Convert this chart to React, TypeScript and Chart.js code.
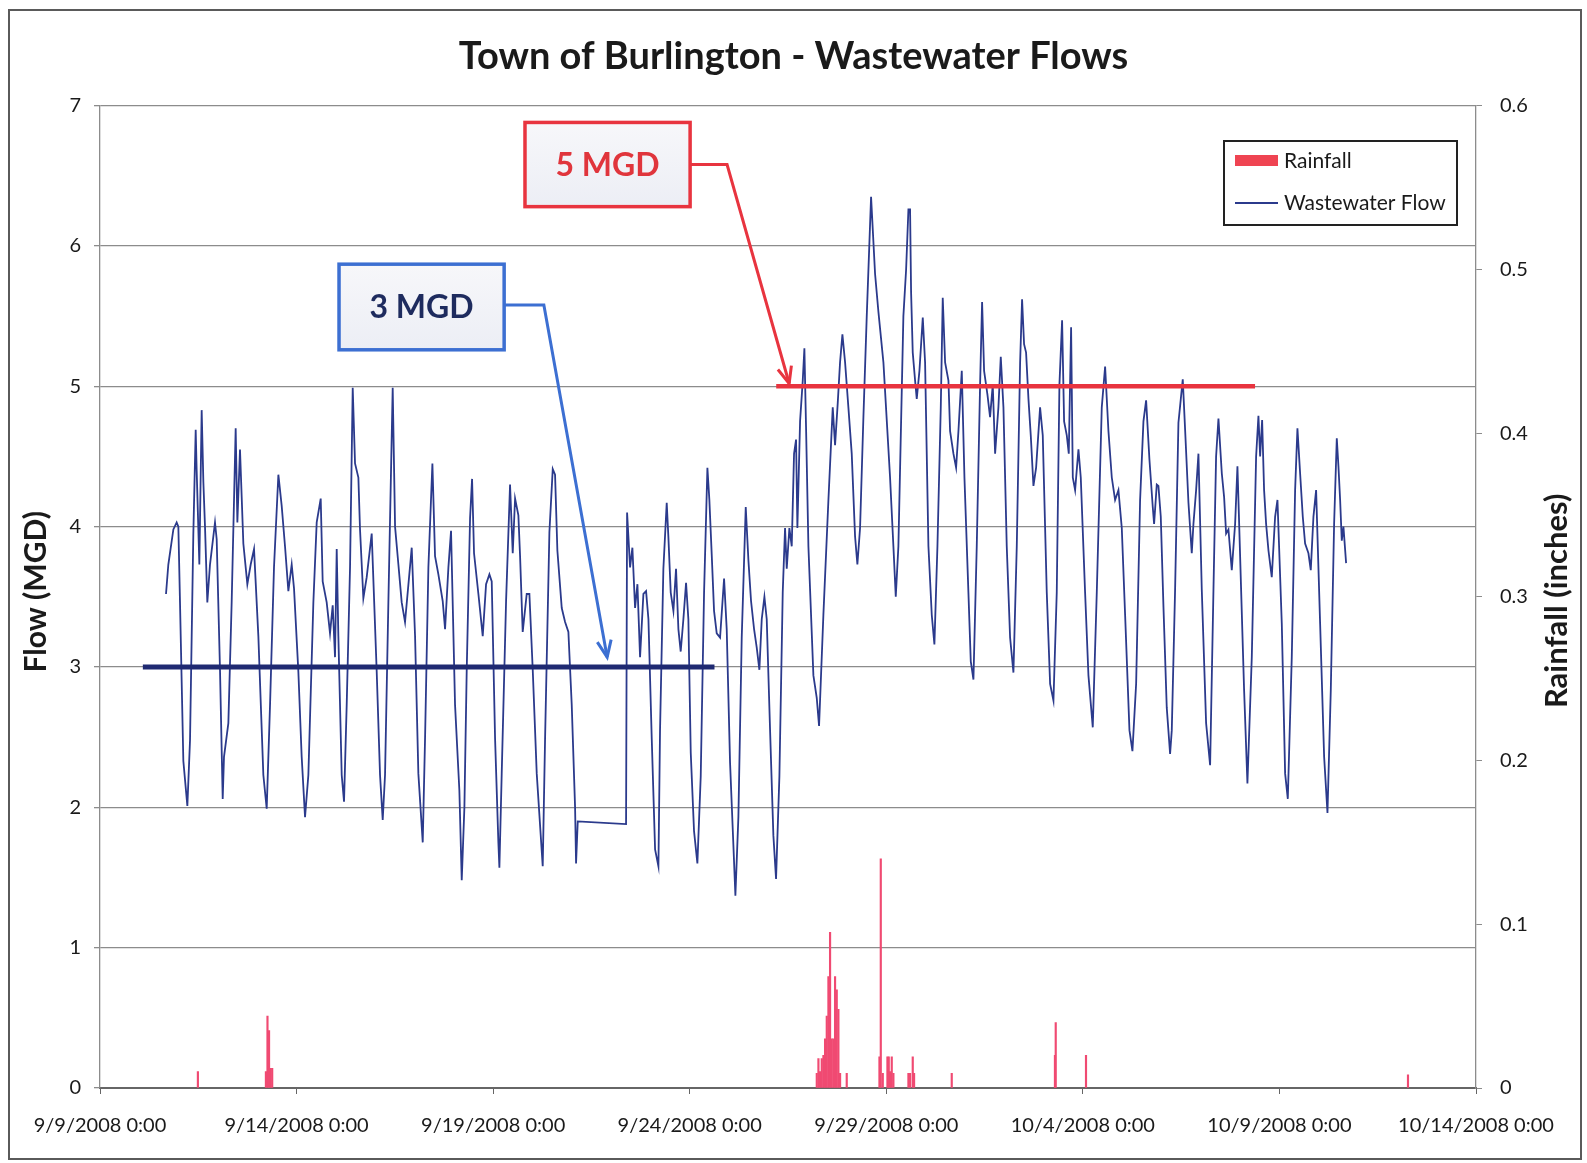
import React, { useEffect, useRef } from "react";
import { Chart, registerables } from "chart.js";

Chart.register(...registerables);

// ---------- DATA ----------
const xTickLabels = [
  "9/9/2008 0:00",
  "9/14/2008 0:00",
  "9/19/2008 0:00",
  "9/24/2008 0:00",
  "9/29/2008 0:00",
  "10/4/2008 0:00",
  "10/9/2008 0:00",
  "10/14/2008 0:00",
];

// days since 9/9/2008 0:00
const flowDays = [
  1.679, 1.738, 1.866, 1.95, 1.993, 2.035, 2.12, 2.222, 2.29, 2.374, 2.434, 2.459, 2.527, 2.586, 2.629, 2.671,
  2.73, 2.798, 2.925, 2.968, 3.053, 3.121, 3.154, 3.265, 3.349, 3.451, 3.494, 3.561, 3.646, 3.748, 3.833, 3.918,
  4.028, 4.155, 4.24, 4.325, 4.426, 4.537, 4.621, 4.706, 4.791, 4.876, 4.935, 5.045, 5.13, 5.215, 5.3, 5.427,
  5.512, 5.614, 5.664, 5.766, 5.851, 5.919, 5.978, 6.021, 6.063, 6.148, 6.207, 6.275, 6.36, 6.428, 6.487, 6.572,
  6.614, 6.699, 6.784, 6.911, 7.038, 7.123, 7.191, 7.25, 7.335, 7.445, 7.505, 7.59, 7.674, 7.759,
  7.929, 8.014, 8.098, 8.209, 8.268, 8.353, 8.455, 8.522, 8.607, 8.717, 8.777, 8.862, 8.929, 9.031, 9.141, 9.201,
  9.269, 9.328, 9.413, 9.464, 9.514, 9.625, 9.735, 9.82, 9.905, 9.964, 10.049, 10.133, 10.159, 10.218, 10.329,
  10.43, 10.498, 10.558, 10.642, 10.685, 10.752, 10.854, 10.922, 11.007, 11.109, 11.261, 11.321, 11.431, 11.516,
  11.575, 11.634, 11.745, 11.83, 11.914, 11.999, 12.084, 12.109, 12.152, 13.381, 13.407, 13.483, 13.542, 13.61,
  13.67, 13.737, 13.822, 13.89, 13.95, 14.034, 14.119, 14.204,
  14.245, 14.33, 14.415, 14.457, 14.517, 14.585, 14.652, 14.712, 14.771, 14.839, 14.907, 14.966, 15.026, 15.11,
  15.195, 15.28, 15.365, 15.45, 15.5, 15.56, 15.619, 15.687, 15.772, 15.874, 15.941, 16.026, 16.111, 16.162,
  16.238, 16.323, 16.425, 16.493, 16.56, 16.637, 16.704, 16.772, 16.832, 16.9, 16.959, 17.044, 17.128, 17.196,
  17.281, 17.366, 17.425, 17.468, 17.535, 17.595, 17.654, 17.705, 17.739, 17.807, 17.875, 17.917, 17.959, 18.019,
  18.146, 18.231, 18.29, 18.4, 18.528, 18.638, 18.697, 18.765, 18.824, 18.884, 18.952, 19.036, 19.121, 19.206,
  19.265, 19.333, 19.418, 19.503, 19.613, 19.715, 19.8, 19.927, 20.096, 20.181, 20.241, 20.308, 20.435,
  20.504, 20.563, 20.605, 20.631, 20.673, 20.733, 20.775, 20.843, 20.928, 20.987, 21.072, 21.157, 21.224, 21.301,
  21.386, 21.436, 21.496, 21.581, 21.623, 21.708, 21.776, 21.835, 21.92, 21.988, 22.089, 22.149, 22.217, 22.301,
  22.386, 22.437, 22.488, 22.573, 22.64, 22.708, 22.768, 22.852, 22.912, 22.98, 23.064, 23.149, 23.234, 23.319,
  23.404, 23.454, 23.505, 23.556, 23.616, 23.675, 23.743, 23.811, 23.912, 23.98, 24.082, 24.167, 24.252, 24.336,
  24.404, 24.472, 24.523, 24.591, 24.642, 24.701, 24.744, 24.803, 24.888, 24.947, 25.057, 25.142, 25.252, 25.354,
  25.481, 25.566, 25.651, 25.736, 25.82, 25.905, 25.99, 26.075, 26.185, 26.261, 26.355, 26.456, 26.541, 26.609,
  26.693, 26.778, 26.812, 26.88, 26.922, 26.982, 27.05, 27.134, 27.219, 27.262, 27.346, 27.431, 27.474, 27.541,
  27.601, 27.686, 27.77, 27.813, 27.881, 27.94, 28.025, 28.135, 28.237, 28.322, 28.389, 28.449, 28.534, 28.593,
  28.644, 28.703, 28.788, 28.873, 28.932, 29.0, 29.102, 29.186, 29.297, 29.407, 29.466, 29.509, 29.56, 29.61,
  29.661, 29.721, 29.805, 29.89, 29.95, 30.06, 30.145, 30.213, 30.314, 30.399, 30.458, 30.526, 30.594, 30.653,
  30.738, 30.797, 30.865, 30.933, 31.035, 31.137, 31.222, 31.306, 31.391, 31.459, 31.501, 31.544, 31.586, 31.628,
  31.696,
];

// MGD
const flowValues = [
  3.52, 3.73, 3.98, 4.03, 4.0, 3.46, 2.33, 2.01, 2.48, 3.95, 4.69, 4.4, 3.73, 4.83, 4.32, 4.0,
  3.46, 3.73, 4.03, 3.91, 2.97, 2.06, 2.36, 2.6, 3.46, 4.7, 4.03, 4.55, 3.88, 3.59, 3.73, 3.84,
  3.22, 2.23, 1.99, 2.73, 3.71, 4.37, 4.15, 3.86, 3.54, 3.73, 3.56, 2.97, 2.36, 1.93, 2.23, 3.46,
  4.03, 4.2, 3.61, 3.46, 3.24, 3.44, 3.07, 3.84, 3.22, 2.23, 2.04, 2.73, 3.71, 4.99, 4.45, 4.35,
  3.98, 3.49, 3.64, 3.95, 2.97, 2.23, 1.91, 2.23, 3.46, 4.99, 4.0, 3.73, 3.46, 3.32,
  3.85, 3.22, 2.24, 1.75, 2.49, 3.71, 4.45, 3.79, 3.66, 3.47, 3.27, 3.71, 3.97, 2.73, 2.12, 1.48,
  2.0, 2.98, 4.06, 4.34, 3.81, 3.52, 3.22, 3.59, 3.66, 3.61, 2.49, 1.75, 1.57, 2.24, 3.47,
  4.3, 3.81, 4.2, 4.08, 3.79, 3.25, 3.52, 3.52, 2.98, 2.24, 1.58, 2.49, 3.96, 4.41,
  4.37, 3.83, 3.42, 3.32, 3.25, 2.73, 2.0, 1.6, 1.9, 1.88, 4.1, 3.71, 3.85, 3.42,
  3.59, 3.07, 3.52, 3.54, 3.34, 2.49, 1.7, 1.58,
  2.55, 3.7, 4.17, 3.93, 3.53, 3.4, 3.7, 3.27, 3.11, 3.34, 3.6, 3.34, 2.39, 1.83,
  1.6, 2.22, 3.53, 4.42, 4.19, 3.8, 3.4, 3.24, 3.21, 3.63, 3.27, 2.32, 1.73, 1.37,
  1.93, 3.21, 4.14, 3.76, 3.47, 3.27, 3.14, 2.98, 3.34, 3.5, 3.34, 2.55, 1.8, 1.49,
  2.22, 3.53, 3.99, 3.7, 3.99, 3.86, 4.52, 4.62, 3.99, 4.75, 5.04, 5.27, 4.71, 3.86,
  2.94, 2.78, 2.58, 3.37, 4.19, 4.85, 4.58, 4.88, 5.17, 5.37, 5.17, 4.85, 4.52, 3.93,
  3.73, 3.99, 4.78, 5.5, 6.35, 5.8, 5.53, 5.17, 4.35, 3.86, 3.5, 3.86, 5.5,
  5.83, 6.26, 6.26, 5.67, 5.24, 5.04, 4.91, 5.11, 5.49, 5.17, 3.86, 3.37, 3.16, 3.86,
  4.85, 5.63, 5.17, 5.04, 4.68, 4.52, 4.42, 4.68, 5.11, 4.35, 3.53, 3.04, 2.91, 3.86,
  5.01, 5.6, 5.11, 4.94, 4.78, 5.01, 4.52, 4.85, 5.21, 4.85, 3.86, 3.21, 2.96, 3.86,
  5.17, 5.62, 5.3, 5.24, 4.91, 4.65, 4.29, 4.42, 4.85, 4.65, 3.53, 2.88, 2.76, 3.53,
  5.01, 5.47, 4.75, 4.65, 4.52, 5.42, 4.35, 4.26, 4.55, 4.35, 3.53, 2.94, 2.57, 3.53,
  4.85, 5.14, 4.68, 4.35, 4.19, 4.26, 3.99, 3.37, 2.55, 2.4, 2.88, 4.19, 4.75, 4.9,
  4.48, 4.14, 4.02, 4.3, 4.29, 4.07, 3.43, 2.71, 2.38, 2.55, 3.55, 4.74, 4.86, 5.05,
  4.69, 4.17, 3.81, 4.02, 4.26, 4.52, 3.55, 2.6, 2.3, 3.55, 4.5, 4.77, 4.38, 4.21,
  3.95, 3.98, 3.69, 4.02, 4.43, 3.79, 2.83, 2.17, 3.07, 4.5, 4.79, 4.5, 4.76, 4.26,
  4.02, 3.83, 3.64, 4.07, 4.19, 3.31, 2.24, 2.06, 3.07, 4.26, 4.7, 4.38, 4.07, 3.88,
  3.81, 3.69, 4.07, 4.26, 3.31, 2.36, 1.96, 2.83, 4.02, 4.63, 4.43, 4.19, 3.9, 4.0,
  3.74,
];

const rainDays = [
  2.49, 4.22, 4.26, 4.3, 4.34, 4.38,
  18.232, 18.274, 18.316, 18.359, 18.401, 18.443, 18.486, 18.528, 18.57, 18.613, 18.655, 18.697, 18.74, 18.782,
  18.825, 18.994, 19.826, 19.86, 19.911, 20.029, 20.063, 20.097, 20.139, 20.181, 20.563, 20.606, 20.673, 20.707,
  21.665, 24.29, 24.31, 25.08, 33.27,
];

// inches
const rainValues = [
  0.01, 0.01, 0.044, 0.035, 0.012, 0.012,
  0.009, 0.018, 0.01, 0.018, 0.02, 0.03, 0.044, 0.068, 0.095, 0.03, 0.03, 0.068, 0.06, 0.048,
  0.009, 0.009, 0.019, 0.14, 0.009, 0.019, 0.019, 0.01, 0.019, 0.009, 0.009, 0.009, 0.019, 0.009,
  0.009, 0.02, 0.04, 0.02, 0.008,
];

const limit5Days = [17.2, 29.38];
const limit5Values = [5, 5];
const limit3Days = [1.09, 15.63];
const limit3Values = [3, 3];

// ---------- STYLE / ANNOTATION CONFIG ----------
const FONT = "Lato, 'Open Sans', sans-serif";
const FLOW_COLOR = "#2b3a8c";
const RAIN_COLOR = "#f04a72";
const RED = "#e8343f";
const NAVY = "#1f2a72";
const BLUE = "#3c6fd2";
const GRID = "#8c8c8c";

const callouts = [
  {
    label: "5 MGD",
    box: [10.81, 6.88, 15.01, 6.28],
    elbow: [15.95, 6.58],
    tip: [17.53, 5.02],
    color: RED,
    textColor: "#e0353c",
  },
  {
    label: "3 MGD",
    box: [6.08, 5.87, 10.28, 5.26],
    elbow: [11.29, 5.58],
    tip: [12.9, 3.07],
    color: BLUE,
    textColor: "#1e2b5e",
  },
];

const framePlugin = {
  id: "frame",
  afterDraw(chart: any) {
    const ctx = chart.ctx;
    ctx.save();
    ctx.strokeStyle = "#5a5a5a";
    ctx.lineWidth = 2;
    ctx.strokeRect(9, 10, 1572, 1149);
    ctx.restore();
  },
};

const axisTitlePlugin = {
  id: "axisTitles",
  afterDraw(chart: any) {
    const { ctx, chartArea } = chart;
    const cy = (chartArea.top + chartArea.bottom) / 2;
    ctx.save();
    ctx.fillStyle = "#1a1a1a";
    ctx.textAlign = "center";
    ctx.textBaseline = "middle";
    ctx.save();
    ctx.font = `bold 30px ${FONT}`;
    ctx.translate(36, cy - 5);
    ctx.rotate(-Math.PI / 2);
    ctx.fillText("Flow (MGD)", 0, 0);
    ctx.restore();
    ctx.save();
    ctx.font = `bold 31px ${FONT}`;
    ctx.translate(1557, cy + 4);
    ctx.rotate(-Math.PI / 2);
    ctx.fillText("Rainfall (inches)", 0, 0);
    ctx.restore();
    ctx.restore();
  },
};

const legendPlugin = {
  id: "customLegend",
  afterDraw(chart: any) {
    const ctx = chart.ctx;
    const x = 1224, y = 141, w = 233, h = 84;
    ctx.save();
    ctx.fillStyle = "#ffffff";
    ctx.fillRect(x, y, w, h);
    ctx.strokeStyle = "#222";
    ctx.lineWidth = 2;
    ctx.strokeRect(x, y, w, h);
    const rain = chart.data.datasets[2];
    const flow = chart.data.datasets[1];
    ctx.fillStyle = "#ef4452";
    ctx.fillRect(x + 11, y + 14, 43, 11);
    ctx.strokeStyle = FLOW_COLOR;
    ctx.lineWidth = 2;
    ctx.beginPath();
    ctx.moveTo(x + 11, y + 62);
    ctx.lineTo(x + 54, y + 62);
    ctx.stroke();
    ctx.fillStyle = "#1a1a1a";
    ctx.font = `21px ${FONT}`;
    ctx.textAlign = "left";
    ctx.textBaseline = "middle";
    ctx.fillText(rain.label, x + 60, y + 20);
    ctx.fillText(flow.label, x + 60, y + 62);
    ctx.restore();
  },
};

const calloutPlugin = {
  id: "callouts",
  afterDatasetsDraw(chart: any) {
    const ctx = chart.ctx;
    const xs = chart.scales.x;
    const ys = chart.scales.y;
    ctx.save();
    for (const c of callouts) {
      const x1 = xs.getPixelForValue(c.box[0]);
      const y1 = ys.getPixelForValue(c.box[1]);
      const x2 = xs.getPixelForValue(c.box[2]);
      const y2 = ys.getPixelForValue(c.box[3]);
      const ex = xs.getPixelForValue(c.elbow[0]);
      const ey = ys.getPixelForValue(c.elbow[1]);
      const tx = xs.getPixelForValue(c.tip[0]);
      const ty = ys.getPixelForValue(c.tip[1]);
      ctx.strokeStyle = c.color;
      ctx.lineWidth = 3;
      ctx.lineJoin = "miter";
      ctx.beginPath();
      ctx.moveTo(x2, ey);
      ctx.lineTo(ex, ey);
      ctx.lineTo(tx, ty);
      ctx.stroke();
      const ang = Math.atan2(ty - ey, tx - ex);
      const L = 18, a = 0.4;
      ctx.beginPath();
      ctx.moveTo(tx - L * Math.cos(ang - a), ty - L * Math.sin(ang - a));
      ctx.lineTo(tx, ty);
      ctx.lineTo(tx - L * Math.cos(ang + a), ty - L * Math.sin(ang + a));
      ctx.stroke();
      const g = ctx.createLinearGradient(0, y1, 0, y2);
      g.addColorStop(0, "#f7f7fa");
      g.addColorStop(1, "#eceef5");
      ctx.fillStyle = g;
      ctx.fillRect(x1, y1, x2 - x1, y2 - y1);
      ctx.lineWidth = 3.5;
      ctx.strokeRect(x1, y1, x2 - x1, y2 - y1);
      ctx.fillStyle = c.textColor;
      ctx.font = `bold 32px ${FONT}`;
      ctx.textAlign = "center";
      ctx.textBaseline = "middle";
      ctx.fillText(c.label, (x1 + x2) / 2, (y1 + y2) / 2 + 1);
    }
    ctx.restore();
  },
};

export default function App() {
  const canvasRef = useRef<HTMLCanvasElement | null>(null);

  useEffect(() => {
    if (!canvasRef.current) return;
    const flowData = flowDays.map((d, i) => ({ x: d, y: flowValues[i] }));
    const rainData = rainDays.map((d, i) => ({ x: d, y: rainValues[i] }));
    const l5 = limit5Days.map((d, i) => ({ x: d, y: limit5Values[i] }));
    const l3 = limit3Days.map((d, i) => ({ x: d, y: limit3Values[i] }));

    const tickFont = { family: FONT, size: 20 };

    const chart = new Chart(canvasRef.current, {
      type: "line",
      data: {
        datasets: [
          {
            type: "line",
            label: "5 MGD line",
            data: l5,
            borderColor: RED,
            borderWidth: 4.5,
            pointRadius: 0,
            yAxisID: "y",
            order: 0,
          },
          {
            type: "line",
            label: "Wastewater Flow",
            data: flowData,
            borderColor: FLOW_COLOR,
            borderWidth: 1.8,
            pointRadius: 0,
            tension: 0,
            yAxisID: "y",
            order: 2,
          },
          {
            type: "bar",
            label: "Rainfall",
            data: rainData,
            backgroundColor: RAIN_COLOR,
            barThickness: 1.5,
            yAxisID: "y2",
            order: 3,
          },
          {
            type: "line",
            label: "3 MGD line",
            data: l3,
            borderColor: NAVY,
            borderWidth: 5,
            pointRadius: 0,
            yAxisID: "y",
            order: 1,
          },
        ] as any,
      },
      options: {
        responsive: false,
        animation: false,
        devicePixelRatio: 1,
        layout: { padding: 0 },
        plugins: {
          legend: { display: false },
          tooltip: { enabled: false },
          title: {
            display: true,
            text: "Town of Burlington - Wastewater Flows",
            color: "#1a1a1a",
            font: { family: FONT, size: 38, weight: "bold" },
            padding: { top: 34, bottom: 26 },
          },
        },
        scales: {
          x: {
            type: "linear",
            min: 0,
            max: 35,
            offset: false,
            ticks: {
              stepSize: 5,
              autoSkip: false,
              maxRotation: 0,
              minRotation: 0,
              padding: 20,
              color: "#1a1a1a",
              font: tickFont,
              callback: (v: any) => xTickLabels[Math.round(Number(v) / 5)] ?? "",
            },
            grid: { display: true, offset: false, drawOnChartArea: false, drawTicks: true, tickLength: 6, color: "#666" },
            border: { display: true, color: "#666", width: 2 },
            afterFit: (s: any) => {
              s.height = 75;
            },
          },
          y: {
            type: "linear",
            position: "left",
            min: 0,
            max: 7,
            ticks: { stepSize: 1, padding: 13, color: "#1a1a1a", font: tickFont },
            grid: { color: GRID, lineWidth: 1.3, tickLength: 6 },
            border: { display: true, color: GRID, width: 1.3 },
            afterFit: (s: any) => {
              s.width = 100;
            },
          },
          y2: {
            type: "linear",
            position: "right",
            min: 0,
            max: 0.6,
            ticks: { stepSize: 0.1, padding: 18, color: "#1a1a1a", font: tickFont },
            grid: { drawOnChartArea: false, drawTicks: true, tickLength: 6, color: GRID },
            border: { display: true, color: GRID, width: 1.3 },
            afterFit: (s: any) => {
              s.width = 111;
            },
          },
        },
      } as any,
      plugins: [axisTitlePlugin, legendPlugin, calloutPlugin, framePlugin],
    });
    return () => chart.destroy();
  }, []);

  return (
    <div style={{ position: "fixed", left: 0, top: 0, width: 1587, height: 1163, background: "#fff" }}>
      <canvas ref={canvasRef} width={1587} height={1163} style={{ display: "block" }} />
    </div>
  );
}
